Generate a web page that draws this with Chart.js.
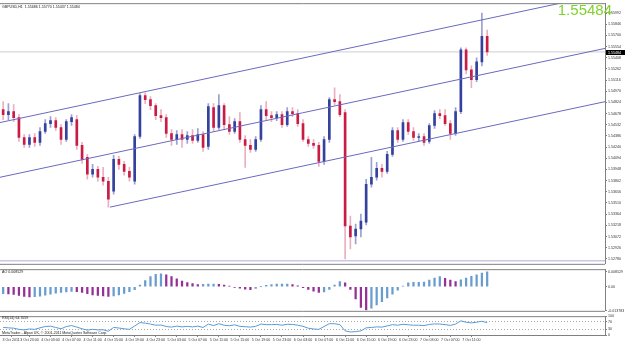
<!DOCTYPE html>
<html>
<head>
<meta charset="utf-8">
<script src="https://cdn.jsdelivr.net/npm/chart.js@4.4.1/dist/chart.umd.min.js"></script>
<style>
  body { margin: 0; background: #fff; width: 625px; height: 343px; overflow: hidden; position: relative; }
  .panel { position: absolute; left: 0; width: 625px; }
</style>
</head>
<body>
<div class="panel" style="top:0;height:267px"><canvas id="main"></canvas></div>
<div class="panel" style="top:266px;height:48px"><canvas id="ao"></canvas></div>
<div class="panel" style="top:313px;height:30px"><canvas id="rsi"></canvas></div>
<script>
// GBPUSD H1, one entry per bar (3 Oct 18:00 .. 7 Oct 14:00)
const opens = [1.5473, 1.54665, 1.54704, 1.54626, 1.54366, 1.54275, 1.54366, 1.54301, 1.54444, 1.54548,
  1.54587, 1.54496, 1.5434, 1.54574, 1.546, 1.54262, 1.54106, 1.53885, 1.5395, 1.53846,
  1.53794, 1.53664, 1.5408, 1.54015, 1.53924, 1.53794, 1.54379, 1.54912, 1.5486, 1.54782,
  1.54652, 1.54626, 1.54418, 1.5434, 1.54405, 1.5434, 1.54392, 1.54327, 1.54405, 1.54249,
  1.54756, 1.54496, 1.54782, 1.54535, 1.54444, 1.54574, 1.5434, 1.54262, 1.5421, 1.5434,
  1.5473, 1.54652, 1.54626, 1.54665, 1.54535, 1.54704, 1.54678, 1.54548, 1.5434, 1.54288,
  1.54262, 1.54054, 1.5434, 1.5486, 1.54834, 1.54691, 1.53209, 1.53079, 1.5317, 1.53261,
  1.53755, 1.53846, 1.53963, 1.53924, 1.54145, 1.54457, 1.5434, 1.54561, 1.54444, 1.54366,
  1.54379, 1.54314, 1.54522, 1.54678, 1.54652, 1.54548, 1.54418, 1.54704, 1.5551, 1.5525,
  1.5512, 1.55354, 1.55686];
const highs = [1.54834, 1.54808, 1.54795, 1.54665, 1.54405, 1.54405, 1.54418, 1.54496, 1.546, 1.54639,
  1.54626, 1.54535, 1.546, 1.54665, 1.54652, 1.54301, 1.54145, 1.54015, 1.53989, 1.53976,
  1.53846, 1.54132, 1.54119, 1.54054, 1.53976, 1.54405, 1.54938, 1.54951, 1.54899, 1.54808,
  1.5473, 1.54665, 1.5447, 1.54457, 1.5447, 1.54444, 1.5447, 1.54483, 1.54444, 1.54808,
  1.54808, 1.54925, 1.54808, 1.54639, 1.54613, 1.54691, 1.54392, 1.5434, 1.54379, 1.54782,
  1.54834, 1.54704, 1.54704, 1.54704, 1.54756, 1.54756, 1.5473, 1.546, 1.54379, 1.5434,
  1.54301, 1.54379, 1.54886, 1.55016, 1.54925, 1.5473, 1.53339, 1.53235, 1.53365, 1.5382,
  1.54106, 1.54041, 1.54015, 1.54184, 1.54496, 1.54496, 1.546, 1.546, 1.54496, 1.54418,
  1.54418, 1.54548, 1.54717, 1.5473, 1.5473, 1.54587, 1.54756, 1.55536, 1.55536, 1.55302,
  1.55406, 1.55991, 1.5577];
const lows = [1.546, 1.546, 1.54574, 1.54314, 1.54236, 1.54236, 1.54249, 1.54262, 1.54418, 1.54496,
  1.54457, 1.54275, 1.54314, 1.54522, 1.5421, 1.54028, 1.5382, 1.53846, 1.53794, 1.53742,
  1.53456, 1.53625, 1.5395, 1.53872, 1.53794, 1.53755, 1.54353, 1.54808, 1.5473, 1.546,
  1.54574, 1.54366, 1.54262, 1.54275, 1.54236, 1.54288, 1.54288, 1.54301, 1.54184, 1.5421,
  1.54444, 1.5447, 1.5447, 1.54405, 1.54418, 1.54301, 1.53976, 1.54171, 1.54184, 1.54314,
  1.546, 1.54574, 1.54587, 1.54496, 1.54509, 1.54639, 1.54509, 1.54314, 1.54249, 1.54223,
  1.53989, 1.54015, 1.54301, 1.54795, 1.54639, 1.5278, 1.5291, 1.52975, 1.53066, 1.53222,
  1.53716, 1.53807, 1.53846, 1.53898, 1.54119, 1.54301, 1.54314, 1.54405, 1.54327, 1.54314,
  1.54262, 1.54288, 1.54483, 1.54613, 1.54522, 1.5434, 1.54392, 1.54678, 1.55198, 1.55016,
  1.55094, 1.55302, 1.55437];
const closes = [1.54665, 1.54704, 1.54626, 1.54366, 1.54275, 1.54366, 1.54301, 1.54444, 1.54548, 1.54587,
  1.54496, 1.5434, 1.54574, 1.54626, 1.54262, 1.5408, 1.53885, 1.5395, 1.53846, 1.53794,
  1.5356, 1.5408, 1.54015, 1.53924, 1.53846, 1.54379, 1.54912, 1.5486, 1.54782, 1.54652,
  1.54626, 1.54418, 1.5434, 1.54405, 1.5434, 1.54392, 1.54327, 1.54405, 1.54236, 1.54769,
  1.54496, 1.54782, 1.54535, 1.54444, 1.54574, 1.5434, 1.54262, 1.5421, 1.5434, 1.5473,
  1.54652, 1.54626, 1.54665, 1.54535, 1.54704, 1.54678, 1.54548, 1.5434, 1.54288, 1.54262,
  1.54054, 1.5434, 1.5486, 1.54834, 1.54665, 1.53209, 1.53066, 1.5317, 1.53274, 1.53755,
  1.53846, 1.53963, 1.53924, 1.54145, 1.54457, 1.5434, 1.54561, 1.54444, 1.54366, 1.54379,
  1.54301, 1.54522, 1.54678, 1.54652, 1.54548, 1.54418, 1.54704, 1.5551, 1.5525, 1.5512,
  1.55354, 1.55686, 1.55484];

// Awesome Oscillator
const aoValues = [-0.0040, -0.0041, -0.0044, -0.0050, -0.0055, -0.0058, -0.0057, -0.0054, -0.0048, -0.0042,
  -0.0036, -0.0033, -0.0030, -0.0027, -0.0028, -0.0033, -0.0040, -0.0046, -0.0050, -0.0053,
  -0.0055, -0.0052, -0.0046, -0.0038, -0.0028, -0.0016, 0.0010, 0.0035, 0.0058, 0.0072,
  0.0074, 0.0068, 0.0058, 0.0045, 0.0032, 0.0024, 0.0018, 0.0013, 0.0014, 0.0016,
  0.0016, 0.0014, 0.0010, 0.0004, -0.0003, -0.0008, -0.0014, -0.0016, -0.0010, 0.0002,
  0.0008, 0.0012, 0.0015, 0.0016, 0.0016, 0.0012, 0.0005, -0.0005, -0.0015, -0.0025,
  -0.0032, -0.0030, -0.0015, 0.0010, 0.0030, 0.0022, -0.0015, -0.0070, -0.0118, -0.0133,
  -0.0122, -0.0104, -0.0085, -0.0064, -0.0042, -0.0020, 0.0004, 0.0022, 0.0025, 0.0026,
  0.0027, 0.0038, 0.0050, 0.0058, 0.0048, 0.0038, 0.0030, 0.0040, 0.0050, 0.0060,
  0.0068, 0.0078, 0.008529];

// RSI(14)
const rsiValues = [40, 38, 36, 30, 27, 32, 30, 38, 45, 47,
  40, 33, 45, 50, 42, 33, 26, 30, 27, 28,
  20, 40, 37, 33, 30, 48, 66, 63, 58, 52,
  53, 45, 42, 47, 43, 46, 43, 47, 40, 58,
  50, 60, 52, 49, 54, 46, 44, 42, 46, 58,
  55, 55, 56, 52, 57, 56, 52, 46, 36, 32,
  30, 45, 60, 60, 55, 22, 16, 18, 22, 38,
  40, 43, 42, 48, 55, 52, 57, 54, 52, 52,
  50, 56, 59, 58, 55, 51, 58, 75, 68, 64,
  68, 73, 64.7059];

// trend channel drawn on the chart (bar index, price)
const channelUpper = [{ x: -0.6, y: 1.54561 }, { x: 114.4, y: 1.56245 }];
const channelMiddle = [{ x: -0.6, y: 1.53846 }, { x: 114.4, y: 1.5553 }];
const channelLower = [{ x: 20.3, y: 1.53456 }, { x: 114.4, y: 1.54834 }];
const levelLine = 1.52754;

const priceTicks = [1.5278, 1.52926, 1.53072, 1.53218, 1.53364, 1.5351, 1.53656, 1.53802, 1.53948, 1.54094,
  1.5424, 1.54386, 1.54532, 1.54678, 1.54824, 1.5497, 1.55116, 1.55262, 1.55408, 1.55554,
  1.557, 1.55846, 1.55992];
const timeTickPos = [1.5, 5, 9, 13, 17, 21, 25, 29, 33, 37, 41, 45, 49, 53, 57, 61, 65, 69, 73, 77, 81, 85, 89];
const timeTickLabels = ['3 Oct 2011', '3 Oct 23:00', '4 Oct 03:00', '4 Oct 07:00', '4 Oct 11:00', '4 Oct 15:00',
  '4 Oct 19:00', '4 Oct 23:00', '5 Oct 03:00', '5 Oct 07:00', '5 Oct 11:00', '5 Oct 15:00', '5 Oct 19:00',
  '5 Oct 23:00', '6 Oct 03:00', '6 Oct 07:00', '6 Oct 11:00', '6 Oct 15:00', '6 Oct 19:00', '6 Oct 23:00',
  '7 Oct 03:00', '7 Oct 07:00', '7 Oct 11:00'];

const BULL = '#34429e', BEAR = '#c81c44';
const BULL_WICK = '#9aa0d0', BEAR_WICK = '#eab0c0';
const AXIS = '#808080';
const TINY = '3.6px "Liberation Sans"';
const X_MIN = -0.6, X_MAX = 114.4;
const lastClose = closes[closes.length - 1];

const isBull = i => closes[i] >= opens[i];

const xScale = (display) => ({
  type: 'linear', min: X_MIN, max: X_MAX, offset: false, display: display,
  grid: { offset: false, display: false }
});
const rightAxis = (extra) => Object.assign({
  position: 'right',
  afterFit: s => { s.width = 20; },
  border: { display: true, color: AXIS },
  grid: { drawOnChartArea: false, tickLength: 2, color: AXIS },
  ticks: { font: { family: 'Liberation Sans', size: 3.6 }, color: '#333', padding: 1, autoSkip: false }
}, extra);

// panel frame lines
const framePlugin = {
  id: 'frame',
  afterDraw(chart, args, opts) {
    const { ctx, chartArea: a } = chart;
    ctx.save();
    ctx.strokeStyle = opts.color || AXIS;
    ctx.lineWidth = 1;
    ctx.beginPath();
    if (opts.top) { ctx.moveTo(0, a.top + 0.5); ctx.lineTo(a.right, a.top + 0.5); }
    if (opts.bottom) { ctx.moveTo(0, a.bottom + 0.5); ctx.lineTo(a.right, a.bottom + 0.5); }
    ctx.stroke();
    ctx.restore();
  }
};

const common = {
  responsive: true,
  maintainAspectRatio: false,
  devicePixelRatio: 1,
  animation: false,
  events: [],
  plugins: { legend: { display: false }, tooltip: { enabled: false } }
};

// ---- main price panel ----
new Chart(document.getElementById('main'), {
  type: 'bar',
  data: {
    datasets: [
      { type: 'line', data: channelUpper, borderColor: '#6a6ac0', borderWidth: 1, pointRadius: 0, clip: 0, order: 0 },
      { type: 'line', data: channelMiddle, borderColor: '#6a6ac0', borderWidth: 1, pointRadius: 0, clip: 0, order: 0 },
      { type: 'line', data: channelLower, borderColor: '#6a6ac0', borderWidth: 1, pointRadius: 0, clip: 0, order: 0 },
      {
        data: opens.map((o, i) => ({ x: i, y: [opens[i], closes[i]] })),
        backgroundColor: ctx => isBull(ctx.dataIndex) ? BULL : BEAR,
        barThickness: 2, minBarLength: 1, grouped: false, order: 1
      },
      {
        data: opens.map((o, i) => ({ x: i, y: [lows[i], highs[i]] })),
        backgroundColor: ctx => isBull(ctx.dataIndex) ? BULL_WICK : BEAR_WICK,
        barThickness: 1, grouped: false, order: 2
      },
      { type: 'line', data: [{ x: X_MIN, y: lastClose }, { x: X_MAX, y: lastClose }],
        borderColor: '#cfcfcf', borderWidth: 1, pointRadius: 0, order: 3 },
      { type: 'line', data: [{ x: X_MIN, y: levelLine }, { x: X_MAX, y: levelLine }],
        borderColor: '#b4a8d8', borderWidth: 1, pointRadius: 0, order: 3 }
    ]
  },
  options: Object.assign({}, common, {
    layout: { padding: { top: 3, bottom: 2, left: 0, right: 0 } },
    scales: {
      x: xScale(false),
      y: rightAxis({
        min: 1.52715, max: 1.56121,
        afterBuildTicks: s => { s.ticks = priceTicks.map(v => ({ value: v })); },
        ticks: { font: { family: 'Liberation Sans', size: 3.6 }, color: '#333', padding: 1, autoSkip: false,
          callback: v => v.toFixed(5) }
      })
    },
    plugins: Object.assign({}, common.plugins, { frame: { top: true, bottom: true } })
  }),
  plugins: [framePlugin, {
    id: 'mainText',
    afterDraw(chart) {
      const { ctx, scales } = chart;
      ctx.save();
      ctx.textBaseline = 'top';
      ctx.font = TINY;
      ctx.fillStyle = '#222';
      ctx.fillText('GBPUSD,H1  1.55686 1.55770 1.55437 1.55484', 2, 5);
      ctx.font = '15px "Liberation Sans"';
      ctx.fillStyle = '#7fd22c';
      ctx.textAlign = 'right';
      ctx.fillText(lastClose.toFixed(5), 612, 3);
      const y = scales.y.getPixelForValue(lastClose);
      ctx.fillStyle = '#000';
      ctx.fillRect(606, Math.round(y) - 2, 19, 5);
      ctx.fillStyle = '#fff';
      ctx.font = TINY;
      ctx.textAlign = 'left';
      ctx.textBaseline = 'middle';
      ctx.fillText(lastClose.toFixed(5), 608, Math.round(y) + 0.5);
      ctx.restore();
    }
  }]
});

// ---- Awesome Oscillator panel ----
new Chart(document.getElementById('ao'), {
  type: 'bar',
  data: {
    datasets: [{
      data: aoValues.map((v, i) => ({ x: i, y: v })),
      backgroundColor: ctx => {
        const i = ctx.dataIndex;
        return (i === 0 || aoValues[i] >= aoValues[i - 1]) ? '#6a9dcf' : '#963096';
      },
      barThickness: 1.6
    }]
  },
  options: Object.assign({}, common, {
    layout: { padding: { top: 2, bottom: 1, left: 0, right: 0 } },
    scales: {
      x: xScale(false),
      y: rightAxis({
        min: -0.0138, max: 0.0101,
        afterBuildTicks: s => { s.ticks = [-0.013783, 0, 0.008529].map(v => ({ value: v })); },
        ticks: { font: { family: 'Liberation Sans', size: 3.6 }, color: '#333', padding: 1, autoSkip: false,
          callback: v => v === 0 ? '0.00' : v.toFixed(6) }
      })
    },
    plugins: Object.assign({}, common.plugins, { frame: { top: true, bottom: true } })
  }),
  plugins: [framePlugin, {
    id: 'aoText',
    afterDraw(chart) {
      const { ctx } = chart;
      ctx.save();
      ctx.font = TINY;
      ctx.fillStyle = '#222';
      ctx.textBaseline = 'top';
      ctx.fillText('AO 0.008529', 2, 4);
      ctx.restore();
    }
  }]
});

// ---- RSI panel with the time axis ----
new Chart(document.getElementById('rsi'), {
  type: 'line',
  data: {
    datasets: [{
      data: rsiValues.map((v, i) => ({ x: i, y: v })),
      borderColor: '#5b9bd5', borderWidth: 1, pointRadius: 0, tension: 0
    }]
  },
  options: Object.assign({}, common, {
    layout: { padding: { top: 2, bottom: 0, left: 0, right: 0 } },
    scales: {
      x: {
        type: 'linear', min: X_MIN, max: X_MAX, offset: false,
        afterFit: s => { s.height = 8; },
        afterBuildTicks: s => { s.ticks = timeTickPos.map(v => ({ value: v })); },
        border: { display: true, color: AXIS },
        grid: { drawOnChartArea: false, tickLength: 2, color: AXIS },
        ticks: { font: { family: 'Liberation Sans', size: 3.6 }, color: '#333', padding: 1,
          autoSkip: false, maxRotation: 0, callback: (v, idx) => timeTickLabels[idx] }
      },
      y: rightAxis({
        min: 0, max: 100,
        afterBuildTicks: s => { s.ticks = [0, 30, 70, 100].map(v => ({ value: v })); },
        grid: {
          drawOnChartArea: true, tickLength: 2,
          color: c => (c.tick && (c.tick.value === 30 || c.tick.value === 70)) ? '#a8a8a8' : 'rgba(0,0,0,0)',
          tickColor: AXIS
        },
        border: { display: true, color: AXIS, dash: [1, 2] },
        ticks: { font: { family: 'Liberation Sans', size: 3.6 }, color: '#333', padding: 1, autoSkip: false,
          callback: v => String(v) }
      })
    },
    plugins: Object.assign({}, common.plugins, { frame: { top: true } })
  }),
  plugins: [framePlugin, {
    id: 'rsiText',
    afterDraw(chart) {
      const { ctx } = chart;
      ctx.save();
      ctx.font = TINY;
      ctx.fillStyle = '#222';
      ctx.textBaseline = 'top';
      ctx.fillText('RSI(14) 64.7059', 2, 3);
      ctx.fillText('MetaTrader - Alpari UK, \u00a9 2001-2011 MetaQuotes Software Corp.', 2, 18);
      ctx.restore();
    }
  }]
});
</script>
</body>
</html>
